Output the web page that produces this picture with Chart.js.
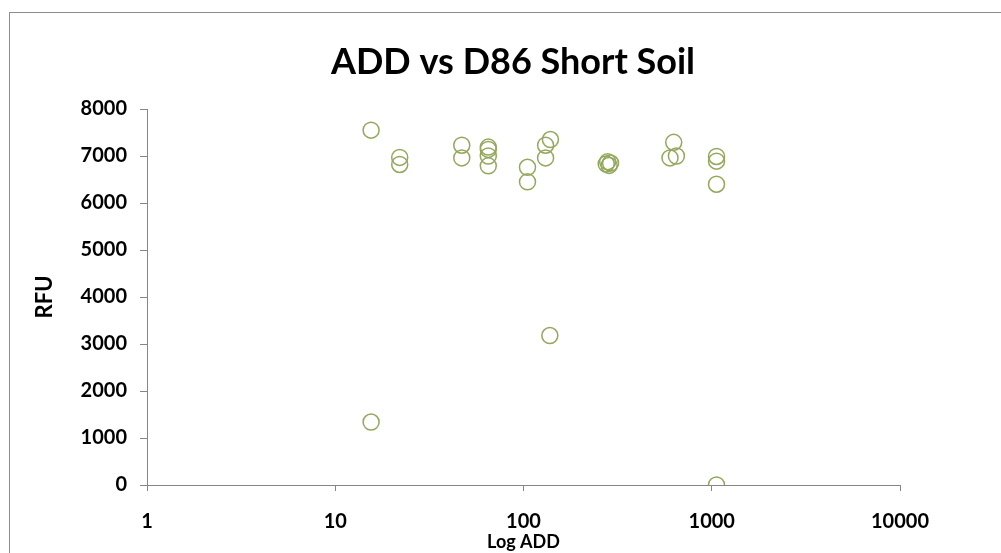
<!DOCTYPE html>
<html>
<head>
<meta charset="utf-8">
<script src="https://cdn.jsdelivr.net/npm/chart.js@4.4.1/dist/chart.umd.min.js"></script>
<style>
  html, body { margin: 0; padding: 0; background: #ffffff; }
  #wrap { position: relative; width: 1001px; height: 553px; }
</style>
</head>
<body>
<div id="wrap"><canvas id="c" width="1001" height="553"></canvas></div>
<script>
// ---- data ----
const addValues = [15.5, 15.5, 22, 22, 47, 47, 65, 65, 65, 65, 105, 105, 131, 131, 139, 138, 275, 280, 285, 290, 600, 628, 649, 1060, 1060, 1060, 1060];
const rfuValues = [7550, 1340, 6970, 6820, 7230, 6960, 7190, 7140, 7000, 6790, 6760, 6450, 7230, 6960, 7350, 3180, 6830, 6880, 6800, 6850, 6960, 7290, 7000, 6990, 6890, 6400, 0];
const xTickValues = [1, 10, 100, 1000, 10000];
const yTickValues = [0, 1000, 2000, 3000, 4000, 5000, 6000, 7000, 8000];
const chartTitle = 'ADD vs D86 Short Soil';
const xTitle = 'Log ADD';
const yTitle = 'RFU';

const points = addValues.map((x, i) => ({ x: x, y: rfuValues[i] }));

const axisGray = '#868686';
const fontFam = 'Lato, "DejaVu Sans", sans-serif';

const borderPlugin = {
  id: 'outerBorder',
  beforeDraw(chart) {
    const ctx = chart.ctx;
    ctx.save();
    ctx.strokeStyle = '#8c8c8c';
    ctx.lineWidth = 1;
    ctx.strokeRect(9.5, 12.5, 1200, 1000);
    ctx.restore();
  }
};

const titlePlugin = {
  id: 'excelTitle',
  afterDraw(chart) {
    const ctx = chart.ctx;
    ctx.save();
    ctx.fillStyle = '#000000';
    ctx.font = 'bold 36px ' + fontFam;
    ctx.textAlign = 'center';
    ctx.textBaseline = 'middle';
    ctx.fillText(chartTitle, 513, 62);
    ctx.restore();
  }
};

new Chart(document.getElementById('c'), {
  type: 'scatter',
  data: {
    datasets: [{
      label: 'RFU',
      data: points,
      pointStyle: 'circle',
      pointRadius: 8,
      pointHoverRadius: 8,
      pointBackgroundColor: 'rgba(0,0,0,0)',
      pointBorderColor: '#93a85c',
      pointBorderWidth: 1.5,
      showLine: false
    }]
  },
  options: {
    responsive: false,
    animation: false,
    events: [],
    layout: { padding: { left: 0, top: 109, right: 101, bottom: 0 } },
    plugins: {
      legend: { display: false },
      tooltip: { enabled: false },
      title: { display: false }
    },
    scales: {
      x: {
        type: 'logarithmic',
        min: 1,
        max: 10000,
        afterBuildTicks(scale) { scale.ticks = xTickValues.map(v => ({ value: v })); },
        afterFit(scale) { scale.height = 68; },
        border: { display: true, color: axisGray, width: 1 },
        grid: { display: true, drawOnChartArea: false, drawTicks: true, tickLength: 6, color: axisGray },
        ticks: {
          color: '#000000',
          font: { family: fontFam, size: 20, weight: 'bold' },
          padding: 19,
          maxRotation: 0,
          autoSkip: false,
          callback: (v) => String(v)
        },
        title: {
          display: true,
          text: xTitle,
          color: '#000000',
          font: { family: fontFam, size: 18, weight: 'bold' },
          padding: { top: 0, bottom: 0 }
        }
      },
      y: {
        type: 'linear',
        min: 0,
        max: 8000,
        afterBuildTicks(scale) { scale.ticks = yTickValues.map(v => ({ value: v })); },
        afterFit(scale) { scale.width = 147; },
        border: { display: true, color: axisGray, width: 1 },
        grid: { display: true, drawOnChartArea: false, drawTicks: true, tickLength: 7, color: axisGray },
        ticks: {
          color: '#000000',
          font: { family: fontFam, size: 20, weight: 'bold' },
          padding: 13,
          callback: (v) => String(v)
        },
        title: {
          display: true,
          text: yTitle,
          color: '#000000',
          font: { family: fontFam, size: 22, weight: 'bold' },
          padding: { top: 32, bottom: 0 }
        }
      }
    }
  },
  plugins: [borderPlugin, titlePlugin]
});
</script>
</body>
</html>
